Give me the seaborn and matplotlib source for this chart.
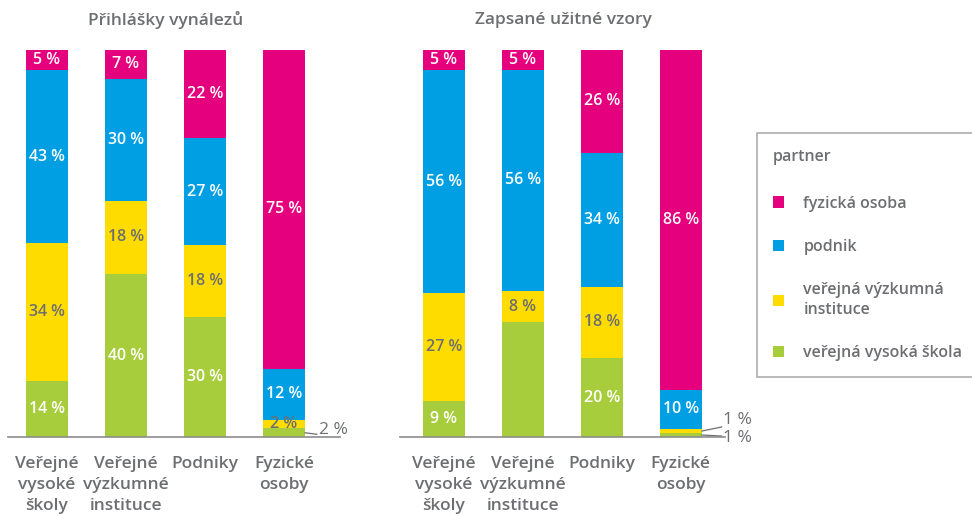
import matplotlib
matplotlib.use('Agg')
import matplotlib.pyplot as plt
import seaborn as sns
import numpy as np
from matplotlib.patches import Patch

sns.set_theme(style='white')
plt.rcParams['font.family'] = ['Open Sans', 'DejaVu Sans']

GRAY = '#6d6e71'
C_SKOLA = '#a8cd3c'
C_VVI = '#ffdc00'
C_PODNIK = '#009fe3'
C_FYZ = '#e5007e'

# --- data ---
categories = ['Veřejné\nvysoké\nškoly', 'Veřejné\nvýzkumné\ninstituce', 'Podniky', 'Fyzické\nosoby']
titles = ['Přihlášky vynálezů', 'Zapsané užitné vzory']
series_names = ['veřejná vysoká škola', 'veřejná výzkumná\ninstituce', 'podnik', 'fyzická osoba']

# Přihlášky vynálezů (%)
pv_skola = [14, 40, 30, 2]
pv_vvi = [34, 18, 18, 2]
pv_podnik = [43, 30, 27, 12]
pv_fyz = [5, 7, 22, 75]

# Zapsané užitné vzory (%)
uv_skola = [9, 29, 20, 1]
uv_vvi = [27, 8, 18, 1]
uv_podnik = [56, 56, 34, 10]
uv_fyz = [5, 5, 26, 86]

colors = [C_SKOLA, C_VVI, C_PODNIK, C_FYZ]
BAR_W = 0.53


def draw_panel(ax, series, hidden, outside):
    raw = np.array(series, dtype=float)
    parts = raw / raw.sum(axis=0) * 100  # bars fill full height
    cum = np.cumsum(parts, axis=0)
    # stacked look: draw cumulative totals from top segment down
    for k in reversed(range(4)):
        sns.barplot(x=categories, y=cum[k], color=colors[k], width=BAR_W,
                    saturation=1, errorbar=None, linewidth=0, edgecolor='none', ax=ax)
    for k in range(4):
        for i in range(4):
            if (k, i) in hidden or (k, i) in outside:
                continue
            yc = cum[k][i] - parts[k][i] / 2
            ax.text(i, yc, f'{int(raw[k][i])} %', ha='center', va='center',
                    fontsize=11.5, weight='semibold',
                    color=GRAY if k == 1 else 'white')
    # small segments: label outside with a leader line
    for (k, i), (lx, ly, ty) in outside.items():
        yc = cum[k][i] - parts[k][i] / 2
        ax.plot([i + BAR_W / 2, lx], [yc, ly], color=GRAY, lw=0.9, clip_on=False)
        ax.text(lx + 0.02, ty, f'{int(raw[k][i])} %', ha='left', va='center',
                fontsize=12.5, color=GRAY, clip_on=False)
    ax.set_ylim(0, 100)
    ax.set_yticks([])
    ax.set_xlabel('')
    ax.set_ylabel('')
    for sp in ['top', 'right', 'left']:
        ax.spines[sp].set_visible(False)
    ax.spines['bottom'].set_color('#8c8c8c')
    ax.spines['bottom'].set_linewidth(1.2)
    ax.tick_params(axis='x', length=0, pad=14)
    for lbl in ax.get_xticklabels():
        lbl.set_fontsize(12.5)
        lbl.set_color(GRAY)
        lbl.set_fontweight('semibold')
        lbl.set_linespacing(1.38)


W, H = 972, 516
fig = plt.figure(figsize=(W / 100, H / 100), dpi=100)

ax1 = fig.add_axes([8 / W, 1 - 437 / H, 332 / W, 387 / H])
draw_panel(ax1, [pv_skola, pv_vvi, pv_podnik, pv_fyz], hidden=set(),
           outside={(0, 3): (3.42, 0.7, 1.9)})
ax1.set_xlim(-0.49, 3.71)

ax2 = fig.add_axes([400 / W, 1 - 437 / H, 325 / W, 387 / H])
draw_panel(ax2, [uv_skola, uv_vvi, uv_podnik, uv_fyz], hidden={(0, 1)},
           outside={(1, 3): (3.52, 2.6, 4.5), (0, 3): (3.52, 0.25, -0.3)})
ax2.set_xlim(-0.555, 3.56)

fig.text(166 / W, 1 - 20 / H, titles[0], ha='center', va='center',
         fontsize=12.5, color=GRAY, weight='semibold')
fig.text(563 / W, 1 - 20 / H, titles[1], ha='center', va='center',
         fontsize=12.5, color=GRAY, weight='semibold')

handles = [Patch(facecolor=colors[k], edgecolor='none') for k in reversed(range(4))]
labels = list(reversed(series_names))
leg = fig.legend(handles, labels, loc='upper left', bbox_to_anchor=(757 / W, 1 - 133 / H),
                 title='partner', alignment='left', frameon=True, fancybox=False,
                 edgecolor='#9a9a9a', fontsize=11.5, title_fontsize=11.5,
                 labelspacing=1.7, handlelength=0.7, handleheight=0.7,
                 handletextpad=1.2, borderpad=1.0, borderaxespad=0)
leg.get_frame().set_linewidth(1.2)
leg.get_title().set_color(GRAY)
leg.get_title().set_fontweight('semibold')
leg._legend_box.sep = 22
for t in leg.get_texts():
    t.set_color(GRAY)
    t.set_fontweight('semibold')
    t.set_linespacing(1.35)

fig.savefig('out.png', dpi=100)
